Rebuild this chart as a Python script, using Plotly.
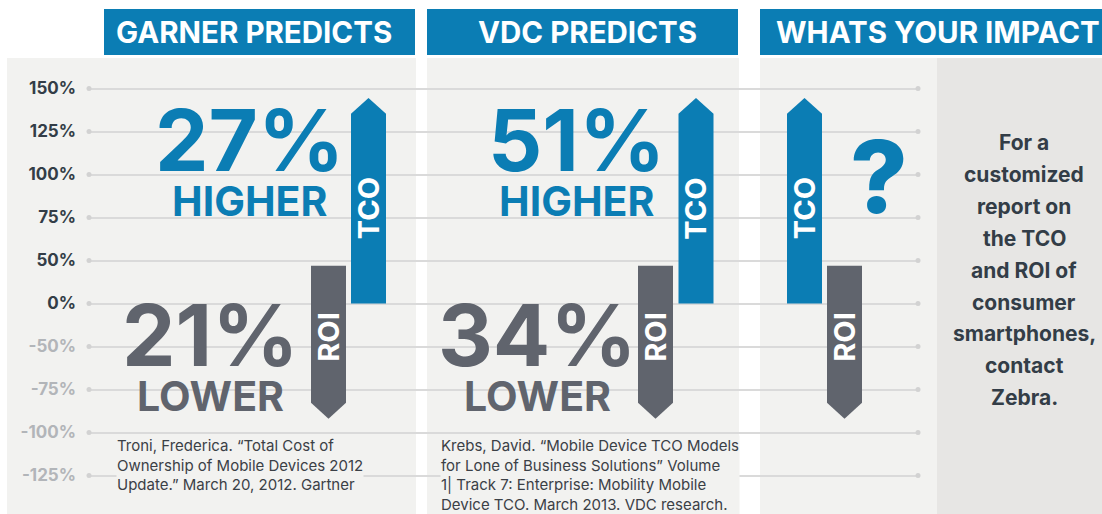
import numpy as np
import plotly.graph_objects as go

# ---------------- data ----------------
tick_labels = ["150%", "125%", "100%", "75%", "50%", "0%", "-50%", "-75%", "-100%", "-125%"]
tick_values = [150, 125, 100, 75, 50, 0, -50, -75, -100, -125]

panel_titles = ["GARNER PREDICTS", "VDC PREDICTS", "WHATS YOUR IMPACT"]
tco_tip = [144.5, 144.5, 144.5]      # TCO arrow tip (%), base at 0%
roi_top = [44, 44, 44]               # ROI arrow top (%)
roi_tip = [-92, -92, -92]            # ROI arrow tip (%)
tco_headline = ["27%", "51%", "?"]
tco_word = ["HIGHER", "HIGHER", ""]
roi_headline = ["21%", "34%", ""]
roi_word = ["LOWER", "LOWER", ""]
citations = [
    "Troni, Frederica. “Total Cost of<br>Ownership of Mobile Devices 2012<br>Update.” March 20, 2012. Gartner",
    "Krebs, David. “Mobile Device TCO Models<br>for Lone of Business Solutions” Volume<br>1| Track 7: Enterprise: Mobility Mobile<br>Device TCO. March 2013. VDC research.",
]
side_text = ["For a", "customized", "report on", "the TCO", "and ROI of",
             "consumer", "smartphones,", "contact", "Zebra."]

# ---------------- layout constants (pixels) ----------------
W, H = 1102, 514
ML, MR, MT, MB = 89, 184, 67, 17
PW, PH = W - ML - MR, H - MT - MB
BLUE = "#0b7db4"
GRAY = "#60646d"
PANEL = "#f2f2f0"
PANEL_DARK = "#e7e6e4"
DARK_TXT = "#333d47"
NEG_TXT = "#b2b5b9"
FONT = "Inter"

def xp(px):
    return (px - ML) / PW

def yp(py):
    return (H - MB - py) / PH

asc = sorted(tick_values)
idx_asc = [len(asc) - 1 - tick_values.index(v) for v in asc]

def to_idx(v):
    return float(np.interp(v, asc, idx_asc))

tco_x = [368.5, 696.0, 804.5]   # bar centers (x axis in pixel units)
roi_x = [328.5, 655.5, 844.5]
BAR_W = 35
HEAD = 0.37  # arrow head height in axis units

fig = go.Figure()
ann = []

# gridline end dots
n = len(tick_labels)
fig.add_trace(go.Scatter(
    x=[ML] * n + [ML + PW] * n, y=list(range(n)) * 2, mode="markers",
    marker=dict(size=5, color="#d2d2d2"), cliponaxis=False, hoverinfo="skip", showlegend=False))

# arrows
for i in range(3):
    c = tco_x[i]; x0, x1 = c - BAR_W / 2, c + BAR_W / 2
    tip = to_idx(tco_tip[i]); base = to_idx(0)
    fig.add_trace(go.Scatter(
        x=[x0, x0, c, x1, x1, x0], y=[base, tip - HEAD, tip, tip - HEAD, base, base],
        fill="toself", fillcolor=BLUE, line=dict(width=0), mode="lines",
        hoverinfo="skip", showlegend=False))
    ann.append(dict(x=c, y=(base + tip - HEAD) / 2, xref="x", yref="y",
                    text="TCO", textangle=-90, showarrow=False, xanchor="center", yanchor="middle",
                    font=dict(family=FONT, size=29, color="white", weight=700)))
    c = roi_x[i]; x0, x1 = c - BAR_W / 2, c + BAR_W / 2
    top = to_idx(roi_top[i]); tip = to_idx(roi_tip[i])
    fig.add_trace(go.Scatter(
        x=[x0, x1, x1, c, x0, x0], y=[top, top, tip + HEAD, tip, tip + HEAD, top],
        fill="toself", fillcolor=GRAY, line=dict(width=0), mode="lines",
        hoverinfo="skip", showlegend=False))
    ann.append(dict(x=c, y=(top + tip + HEAD) / 2 - 0.07, xref="x", yref="y",
                    text="ROI", textangle=-90, showarrow=False, xanchor="center", yanchor="middle",
                    font=dict(family=FONT, size=29, color="white", weight=700)))

# panel backgrounds and headers
shapes = []
panels = [(7, 416, PANEL), (427, 739, PANEL), (760, 937, PANEL), (937, W, PANEL_DARK)]
for a, b, col in panels:
    shapes.append(dict(type="rect", xref="paper", yref="paper", x0=xp(a), x1=xp(b),
                       y0=yp(H), y1=yp(58), fillcolor=col, line=dict(width=0), layer="below"))
headers = [(104, 415), (427, 738), (760, W)]
for a, b in headers:
    shapes.append(dict(type="rect", xref="paper", yref="paper", x0=xp(a), x1=xp(b),
                       y0=yp(55), y1=yp(9), fillcolor=BLUE, line=dict(width=0), layer="below"))

def pann(x, y, text, size, color, weight=700, xanchor="center", yanchor="middle", **kw):
    d = dict(xref="paper", yref="paper", x=xp(x), y=yp(y), text=text, xanchor=xanchor,
             yanchor=yanchor, showarrow=False,
             font=dict(family=FONT, size=size, color=color, weight=weight))
    d.update(kw)
    ann.append(d)

hdr_pos = [(254, "center"), (587, "center"), (774, "left")]
for t, (x, anc) in zip(panel_titles, hdr_pos):
    pann(x, 32.5, t, 29.5, "white", xanchor=anc)

tco_cx = [249, 576.5]
roi_cx = [210, 537]
for i in range(2):
    pann(tco_cx[i], 139.5, tco_headline[i], 85, BLUE, height=72, valign="middle")
    pann(tco_cx[i], 201, tco_word[i], 41, BLUE, height=36, valign="middle")
    pann(roi_cx[i], 334.5, roi_headline[i], 85, GRAY, height=72, valign="middle")
    pann(roi_cx[i], 395.5, roi_word[i], 41, GRAY, height=36, valign="middle")
pann(879, 176, tco_headline[2], 100, BLUE, weight=800)

cit_x = [116, 440]
for t, x in zip(citations, cit_x):
    pann(x, 435, t, 15, "#3b4046", weight=400, xanchor="left", yanchor="top",
         align="left", bgcolor=PANEL, borderpad=0)

for k, line in enumerate(side_text):
    pann(1024, 142.5 + k * 31.9, line, 21, DARK_TXT)

ticktext = [f'<span style="color:{DARK_TXT if v >= 0 else NEG_TXT}">{l}</span>'
            for l, v in zip(tick_labels, tick_values)]
ypos = [n - 1 - i for i in range(n)]

fig.update_layout(
    width=W, height=H, margin=dict(l=ML, r=MR, t=MT, b=MB),
    paper_bgcolor="white", plot_bgcolor="rgba(0,0,0,0)",
    shapes=shapes, annotations=ann, showlegend=False,
    xaxis=dict(range=[ML, ML + PW], visible=False, fixedrange=True),
    yaxis=dict(range=[-0.5, n - 0.5], tickvals=ypos, ticktext=ticktext, showgrid=True,
               gridcolor="#dadada", gridwidth=1.5, zeroline=False, ticks="",
               ticklabelstandoff=12, fixedrange=True,
               tickfont=dict(family=FONT, size=17, color=DARK_TXT, weight=700)),
)

fig.write_html("out.html", config={"displayModeBar": False},
               post_script="document.body.style.margin='0px';")
